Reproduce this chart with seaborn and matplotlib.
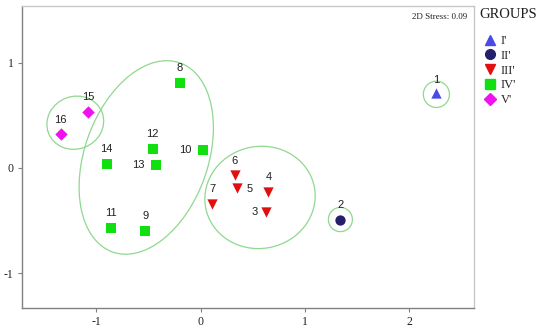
import matplotlib
matplotlib.use("Agg")
import matplotlib.pyplot as plt
from matplotlib.patches import Ellipse
from matplotlib.lines import Line2D
import seaborn as sns
import pandas as pd

# MDS ordination coordinates for the 16 samples
sample_ids = ["1", "2", "3", "4", "5", "6", "7", "8", "9", "10", "11", "12", "13", "14", "15", "16"]
dim1 = [2.26, 1.34, 0.63, 0.65, 0.35, 0.33, 0.11, -0.20, -0.53, 0.02, -0.86, -0.46, -0.43, -0.90, -1.08, -1.34]
dim2 = [0.71, -0.49, -0.42, -0.23, -0.19, -0.07, -0.34, 0.81, -0.60, 0.17, -0.57, 0.18, 0.03, 0.04, 0.53, 0.32]
groups = ["I'", "II'", "III'", "III'", "III'", "III'", "III'", "IV'", "IV'", "IV'", "IV'", "IV'", "IV'", "IV'", "V'", "V'"]

group_order = ["I'", "II'", "III'", "IV'", "V'"]
group_colors = ["#4a4ae8", "#24206e", "#e01010", "#10e010", "#f010f0"]
group_markers = ["^", "o", "v", "s", "D"]
group_sizes = [55, 55, 55, 50, 40]

# label offsets (points) for each sample id
label_offsets = {
    "1": (0, 6), "2": (0, 7), "3": (-6, 0), "4": (0, 7), "5": (7, -1), "6": (0, 7),
    "7": (0, 7), "8": (0, 7), "9": (0, 7), "10": (-8, 0), "11": (0, 7), "12": (0, 7),
    "13": (-8, 0), "14": (0, 7), "15": (0, 7), "16": (0, 7),
}

# cluster outlines: center, width, height, angle
clusters = [
    ((2.26, 0.70), 0.25, 0.25, 0),
    ((1.34, -0.49), 0.23, 0.23, 0),
    ((0.57, -0.28), 1.06, 0.97, 10),
    ((-0.52, 0.10), 1.91, 1.18, 70),
    ((-1.20, 0.43), 0.55, 0.50, 20),
]

df = pd.DataFrame({"id": sample_ids, "x": dim1, "y": dim2, "group": groups})

sns.set_style("white")
plt.rcParams["font.family"] = ["Liberation Serif", "DejaVu Serif"]

fig = plt.figure(figsize=(5.38, 3.30), dpi=100)
ax = fig.add_axes([0.041, 0.067, 0.840, 0.915])

for (cx, cy), w, h, ang in clusters:
    ax.add_patch(Ellipse((cx, cy), w, h, angle=ang, fill=False,
                         edgecolor="#8fd88f", linewidth=0.9, zorder=1))

for g, c, m, s in zip(group_order, group_colors, group_markers, group_sizes):
    sub = df[df["group"] == g]
    sns.scatterplot(data=sub, x="x", y="y", color=c, marker=m, s=s,
                    linewidth=0, ax=ax, zorder=3, legend=False)

for _, r in df.iterrows():
    dx, dy = label_offsets[r["id"]]
    ha = "center" if dx == 0 else ("right" if dx < 0 else "left")
    va = "bottom" if dy > 0 else "center"
    ax.annotate(r["id"], (r["x"], r["y"]), xytext=(dx, dy), textcoords="offset points",
                ha=ha, va=va, fontsize=8, family=["Liberation Sans", "DejaVu Sans"],
                color="#202020", zorder=4)

ax.set_xlim(-1.71, 2.62)
ax.set_ylim(-1.33, 1.54)
ax.set_xticks([-1, 0, 1, 2])
ax.set_yticks([-1, 0, 1])
ax.set_xticklabels(["-1", "0", "1", "2"])
ax.set_yticklabels(["-1", "0", "1"])
ax.set_xlabel("")
ax.set_ylabel("")
ax.tick_params(axis="both", direction="out", length=3, width=0.8, color="#808080",
               labelsize=8.5, labelcolor="#202020", pad=3,
               bottom=True, left=True)

for side in ["left", "bottom"]:
    ax.spines[side].set_color("#808080")
    ax.spines[side].set_linewidth(1.0)
for side in ["top", "right"]:
    ax.spines[side].set_color("#c8c8c8")
    ax.spines[side].set_linewidth(1.0)

ax.text(0.985, 0.975, "2D Stress: 0.09", transform=ax.transAxes, ha="right", va="top",
        fontsize=6.5, color="#202020")

fig.text(479 / 538, 1 - 15 / 330, "GROUPS", ha="left", va="center",
         fontsize=10.5, color="#202020")

handles = [Line2D([], [], linestyle="none", marker=m, color=c, markersize=7 if m != "D" else 6)
           for c, m in zip(group_colors, group_markers)]
leg = fig.legend(handles, group_order, loc="upper left",
                 bbox_to_anchor=(484 / 538, 1 - 35 / 330), frameon=False, fontsize=9,
                 handletextpad=0.35, handlelength=1.0, labelspacing=0.22,
                 borderaxespad=0.0, borderpad=0.0)

fig.savefig("out.png", dpi=100)
